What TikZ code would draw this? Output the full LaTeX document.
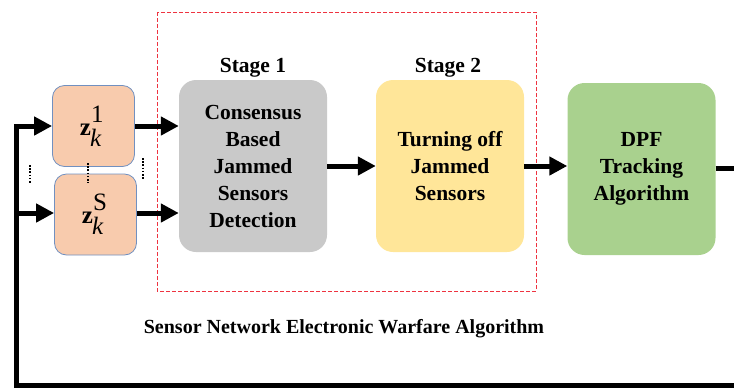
\documentclass[tikz,border=0pt]{standalone}
\usepackage{fontspec}
\setmainfont{Liberation Serif}
\usetikzlibrary{arrows.meta}
\definecolor{peach}{HTML}{F8CBAD}
\definecolor{zborder}{HTML}{7190C0}
\definecolor{greybox}{HTML}{C9C9C9}
\definecolor{yellowbox}{HTML}{FFE699}
\definecolor{greenbox}{HTML}{A9D18E}
\definecolor{dashred}{HTML}{EE3340}
\newcommand{\zlab}[1]{\hspace*{-6pt}\textbf{z}\rlap{\raisebox{13pt}{#1}}\kern-1pt\raisebox{-11pt}{\itshape k}}
\begin{document}
\begin{tikzpicture}[x=1pt,y=-1pt,
  blk/.style={rectangle, rounded corners=17pt, minimum width=148pt, minimum height=172pt,
    align=center, inner sep=0pt, font=\fontsize{21.5}{27}\selectfont\bfseries},
  zbox/.style={rectangle, rounded corners=12pt, draw=zborder, line width=0.8pt, fill=peach,
    minimum width=82pt, minimum height=81pt, inner sep=0pt, font=\fontsize{25}{28}\selectfont},
  lbl/.style={inner sep=0pt, font=\fontsize{21.5}{26}\selectfont\bfseries},
  arr/.style={line width=5pt, -{Triangle[length=18pt,width=18pt]}},
  fb/.style={line width=5pt},
  dotline/.style={line width=2.2pt, dash pattern=on 1.6pt off 1.6pt},
  ewbox/.style={draw=dashred, line width=0.9pt, dash pattern=on 4pt off 2pt}
]
\useasboundingbox (0,0) rectangle (734,389);

% sensor measurement boxes
\node[zbox] (z1) at (93.5,126) {\zlab{1}};
\node[zbox] (zS) at (95.5,214.5) {\zlab{S}};

% processing blocks
\node[blk, fill=greybox] (s1) at (253,166) {Consensus\\Based\\Jammed\\Sensors\\Detection};
\node[blk, fill=yellowbox] (s2) at (450,166) {Turning off\\Jammed\\Sensors};
\node[blk, fill=greenbox] (dpf) at (641.5,169) {DPF\\Tracking\\Algorithm};

% stage labels
\node[lbl, anchor=base] (s1lbl) at (253,72.7) {Stage 1};
\node[lbl, anchor=base] (s2lbl) at (448,72.7) {Stage 2};

% dashed enclosure
\draw[ewbox] (157,12) rectangle (536,291);

% caption
\node[inner sep=0pt, anchor=base, font=\fontsize{20}{24}\selectfont\bfseries] (cap) at (344,333)
  {Sensor Network Electronic Warfare Algorithm};

% dots
\draw[dotline] (30,165) -- (30,183);
\draw[dotline] (88,163) -- (88,183);
\draw[dotline] (143,158) -- (143,180);

% arrows
\draw[arr] (z1.east) -- (z1.east -| s1.west);
\draw[arr] (zS.east |- 0,213) -- (s1.west |- 0,213);
\draw[arr] (s1.east) -- (s2.west);
\draw[arr] (s2.east) -- (s2.east -| dpf.west);

% feedback loop
\coordinate (fbR) at (734,168);
\coordinate (fbBR) at (734,385);
\coordinate (fbBL) at (16,385);
\draw[fb] (dpf.east |- fbR) -- (fbR);
\draw[arr] (fbBR) -- (fbBL) |- (z1.west);
\draw[arr] (fbBL |- 0,213) -- (zS.west |- 0,213);
\end{tikzpicture}
\end{document}
